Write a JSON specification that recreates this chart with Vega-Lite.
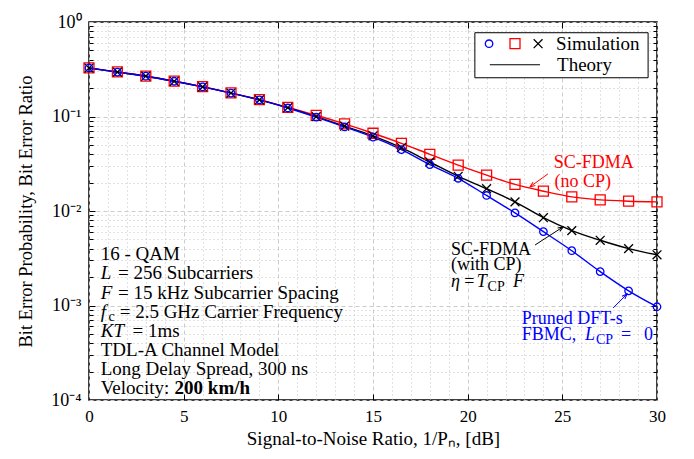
{
  "$schema": "https://vega.github.io/schema/vega-lite/v6.json",
  "width": 568,
  "height": 378,
  "autosize": {"type": "none"},
  "padding": {"left": 89, "top": 22, "right": 37, "bottom": 59},
  "background": "white",
  "config": {
    "view": {"stroke": "black", "strokeWidth": 1.5},
    "font": "Liberation Serif",
    "axis": {"labelFont": "Liberation Serif", "titleFont": "Liberation Serif", "labelColor": "black", "titleColor": "black", "tickColor": "black", "tickWidth": 1}
  },
  "datasets": {
    "curves": [
      {"snr": 0, "ber": 0.327, "series": "SC-FDMA, no CP"},
      {"snr": 1.5, "ber": 0.296, "series": "SC-FDMA, no CP"},
      {"snr": 3, "ber": 0.268, "series": "SC-FDMA, no CP"},
      {"snr": 4.5, "ber": 0.237, "series": "SC-FDMA, no CP"},
      {"snr": 6, "ber": 0.207, "series": "SC-FDMA, no CP"},
      {"snr": 7.5, "ber": 0.178, "series": "SC-FDMA, no CP"},
      {"snr": 9, "ber": 0.151, "series": "SC-FDMA, no CP"},
      {"snr": 10.5, "ber": 0.125, "series": "SC-FDMA, no CP"},
      {"snr": 12, "ber": 0.103, "series": "SC-FDMA, no CP"},
      {"snr": 13.5, "ber": 0.0835, "series": "SC-FDMA, no CP"},
      {"snr": 15, "ber": 0.0665, "series": "SC-FDMA, no CP"},
      {"snr": 16.5, "ber": 0.052, "series": "SC-FDMA, no CP"},
      {"snr": 18, "ber": 0.0398, "series": "SC-FDMA, no CP"},
      {"snr": 19.5, "ber": 0.0306, "series": "SC-FDMA, no CP"},
      {"snr": 21, "ber": 0.024, "series": "SC-FDMA, no CP"},
      {"snr": 22.5, "ber": 0.0191, "series": "SC-FDMA, no CP"},
      {"snr": 24, "ber": 0.0162, "series": "SC-FDMA, no CP"},
      {"snr": 25.5, "ber": 0.0141, "series": "SC-FDMA, no CP"},
      {"snr": 27, "ber": 0.0131, "series": "SC-FDMA, no CP"},
      {"snr": 28.5, "ber": 0.0127, "series": "SC-FDMA, no CP"},
      {"snr": 30, "ber": 0.0125, "series": "SC-FDMA, no CP"},
      {"snr": 0, "ber": 0.326, "series": "SC-FDMA, with CP"},
      {"snr": 1.5, "ber": 0.295, "series": "SC-FDMA, with CP"},
      {"snr": 3, "ber": 0.267, "series": "SC-FDMA, with CP"},
      {"snr": 4.5, "ber": 0.236, "series": "SC-FDMA, with CP"},
      {"snr": 6, "ber": 0.206, "series": "SC-FDMA, with CP"},
      {"snr": 7.5, "ber": 0.177, "series": "SC-FDMA, with CP"},
      {"snr": 9, "ber": 0.15, "series": "SC-FDMA, with CP"},
      {"snr": 10.5, "ber": 0.124, "series": "SC-FDMA, with CP"},
      {"snr": 12, "ber": 0.0995, "series": "SC-FDMA, with CP"},
      {"snr": 13.5, "ber": 0.079, "series": "SC-FDMA, with CP"},
      {"snr": 15, "ber": 0.0625, "series": "SC-FDMA, with CP"},
      {"snr": 16.5, "ber": 0.0468, "series": "SC-FDMA, with CP"},
      {"snr": 18, "ber": 0.033, "series": "SC-FDMA, with CP"},
      {"snr": 19.5, "ber": 0.0233, "series": "SC-FDMA, with CP"},
      {"snr": 21, "ber": 0.0172, "series": "SC-FDMA, with CP"},
      {"snr": 22.5, "ber": 0.0125, "series": "SC-FDMA, with CP"},
      {"snr": 24, "ber": 0.0085, "series": "SC-FDMA, with CP"},
      {"snr": 25.5, "ber": 0.0062, "series": "SC-FDMA, with CP"},
      {"snr": 27, "ber": 0.0049, "series": "SC-FDMA, with CP"},
      {"snr": 28.5, "ber": 0.004, "series": "SC-FDMA, with CP"},
      {"snr": 30, "ber": 0.00344, "series": "SC-FDMA, with CP"},
      {"snr": 0, "ber": 0.326, "series": "Pruned DFT-s FBMC"},
      {"snr": 1.5, "ber": 0.295, "series": "Pruned DFT-s FBMC"},
      {"snr": 3, "ber": 0.267, "series": "Pruned DFT-s FBMC"},
      {"snr": 4.5, "ber": 0.236, "series": "Pruned DFT-s FBMC"},
      {"snr": 6, "ber": 0.206, "series": "Pruned DFT-s FBMC"},
      {"snr": 7.5, "ber": 0.177, "series": "Pruned DFT-s FBMC"},
      {"snr": 9, "ber": 0.15, "series": "Pruned DFT-s FBMC"},
      {"snr": 10.5, "ber": 0.123, "series": "Pruned DFT-s FBMC"},
      {"snr": 12, "ber": 0.0985, "series": "Pruned DFT-s FBMC"},
      {"snr": 13.5, "ber": 0.0775, "series": "Pruned DFT-s FBMC"},
      {"snr": 15, "ber": 0.0605, "series": "Pruned DFT-s FBMC"},
      {"snr": 16.5, "ber": 0.0447, "series": "Pruned DFT-s FBMC"},
      {"snr": 18, "ber": 0.031, "series": "Pruned DFT-s FBMC"},
      {"snr": 19.5, "ber": 0.0222, "series": "Pruned DFT-s FBMC"},
      {"snr": 21, "ber": 0.0146, "series": "Pruned DFT-s FBMC"},
      {"snr": 22.5, "ber": 0.00955, "series": "Pruned DFT-s FBMC"},
      {"snr": 24, "ber": 0.00605, "series": "Pruned DFT-s FBMC"},
      {"snr": 25.5, "ber": 0.0038, "series": "Pruned DFT-s FBMC"},
      {"snr": 27, "ber": 0.00228, "series": "Pruned DFT-s FBMC"},
      {"snr": 28.5, "ber": 0.00143, "series": "Pruned DFT-s FBMC"},
      {"snr": 30, "ber": 0.00097, "series": "Pruned DFT-s FBMC"}
    ],
    "legendBox": [{"snr": 20.38, "snr2": 29.53, "ber": 0.77, "ber2": 0.257}],
    "legendSymbols": [
      {"snr": 21.13, "ber": 0.589, "series": "Pruned DFT-s FBMC"},
      {"snr": 22.5, "ber": 0.589, "series": "SC-FDMA, no CP"},
      {"snr": 23.72, "ber": 0.589, "series": "SC-FDMA, with CP"}
    ],
    "legendLine": [{"snr": 21.17, "snr2": 23.82, "ber": 0.353}],
    "legendText": [
      {"snr": 24.67, "ber": 0.589, "text": "Simulation", "series": "Legend"},
      {"snr": 24.72, "ber": 0.353, "text": "Theory", "series": "Legend"}
    ],
    "plainText": [
      {"snr": 24.55, "ber": 0.0323, "text": "SC-FDMA", "series": "SC-FDMA, no CP"},
      {"snr": 24.59, "ber": 0.0203, "text": "(no CP)", "series": "SC-FDMA, no CP"},
      {"snr": 19.12, "ber": 0.003866, "text": "SC-FDMA", "series": "SC-FDMA, with CP"},
      {"snr": 19.12, "ber": 0.002684, "text": "(with CP)", "series": "SC-FDMA, with CP"},
      {"snr": 19.82, "ber": 0.001787, "text": "=", "series": "SC-FDMA, with CP"},
      {"snr": 22.86, "ber": 0.00072, "text": "Pruned DFT-s", "series": "Pruned DFT-s FBMC"},
      {"snr": 22.86, "ber": 0.000487, "text": "FBMC,", "series": "Pruned DFT-s FBMC"},
      {"snr": 28.1, "ber": 0.000487, "text": "=", "series": "Pruned DFT-s FBMC"},
      {"snr": 29.31, "ber": 0.000487, "text": "0", "series": "Pruned DFT-s FBMC"}
    ],
    "setupText": [
      {"snr": 0.62, "ber": 0.003508, "text": "16 - QAM", "series": "Setup"},
      {"snr": 1.53, "ber": 0.002193, "text": "= 256 Subcarriers", "series": "Setup"},
      {"snr": 1.53, "ber": 0.001366, "text": "= 15 kHz Subcarrier Spacing", "series": "Setup"},
      {"snr": 1.62, "ber": 0.00086, "text": "= 2.5 GHz Carrier Frequency", "series": "Setup"},
      {"snr": 2.3, "ber": 0.000537, "text": "= 1ms", "series": "Setup"},
      {"snr": 0.62, "ber": 0.000338, "text": "TDL-A Channel Model", "series": "Setup"},
      {"snr": 0.62, "ber": 0.000211, "text": "Long Delay Spread, 300 ns", "series": "Setup"},
      {"snr": 0.62, "ber": 0.000133, "text": "Velocity:", "series": "Setup"}
    ],
    "setupItalic": [
      {"snr": 0.62, "ber": 0.002193, "text": "L", "series": "Setup"},
      {"snr": 0.62, "ber": 0.001366, "text": "F", "series": "Setup"},
      {"snr": 0.62, "ber": 0.00086, "text": "f", "series": "Setup"},
      {"snr": 0.62, "ber": 0.000537, "text": "KT", "series": "Setup"}
    ],
    "italicText": [
      {"snr": 19.12, "ber": 0.001787, "text": "η", "series": "SC-FDMA, with CP"},
      {"snr": 20.48, "ber": 0.001787, "text": "T", "series": "SC-FDMA, with CP"},
      {"snr": 22.4, "ber": 0.001787, "text": "F", "series": "SC-FDMA, with CP"},
      {"snr": 26.2, "ber": 0.000487, "text": "L", "series": "Pruned DFT-s FBMC"}
    ],
    "subText": [
      {"snr": 21.05, "ber": 0.001787, "text": "CP", "series": "SC-FDMA, with CP"},
      {"snr": 26.78, "ber": 0.000487, "text": "CP", "series": "Pruned DFT-s FBMC"},
      {"snr": 1.03, "ber": 0.00086, "text": "c", "series": "Setup"}
    ],
    "boldText": [
      {"snr": 4.52, "ber": 0.000133, "text": "200 km/h", "series": "Setup"}
    ],
    "arrows": [
      {"series": "SC-FDMA, no CP", "snr": 24.24, "ber": 0.0247, "snr_tip": 23.29, "ber_tip": 0.018},
      {"series": "SC-FDMA, with CP", "snr": 23.56, "ber": 0.00437, "snr_tip": 25.04, "ber_tip": 0.00679},
      {"series": "Pruned DFT-s FBMC", "snr": 27.68, "ber": 0.000941, "snr_tip": 28.42, "ber_tip": 0.001324}
    ]
  },
  "layer": [
    {
      "description": "Theory curves; also carries the dotted minor grid and left minor ticks",
      "data": {"name": "curves"},
      "mark": {"type": "line", "strokeWidth": 1.4, "interpolate": "monotone"},
      "encoding": {
        "x": {"field": "snr", "type": "quantitative",
          "scale": {"domain": [0, 30], "nice": false, "zero": false},
          "axis": {"orient": "bottom", "values": [1,2,3,4,6,7,8,9,11,12,13,14,16,17,18,19,21,22,23,24,26,27,28,29],
            "grid": true, "gridDash": [1, 3], "gridColor": "#c4c4c4", "gridWidth": 1,
            "labels": false, "ticks": false, "domain": false, "title": null}},
        "y": {"field": "ber", "type": "quantitative",
          "scale": {"type": "log", "domain": [0.0001, 1], "nice": false},
          "axis": {"orient": "left", "values": [0.0002,0.0003,0.0004,0.0005,0.0006,0.0007,0.0008,0.0009,0.002,0.003,0.004,0.005,0.006,0.007,0.008,0.009,0.02,0.03,0.04,0.05,0.06,0.07,0.08,0.09,0.2,0.3,0.4,0.5,0.6,0.7,0.8,0.9],
            "grid": true, "gridDash": [1, 3], "gridColor": "#c4c4c4", "gridWidth": 1,
            "labels": false, "ticks": true, "tickSize": -4, "domain": false, "title": null}},
        "color": {"field": "series", "type": "nominal",
          "scale": {"domain": ["SC-FDMA, no CP", "SC-FDMA, with CP", "Pruned DFT-s FBMC", "Setup", "Legend"],
            "range": ["#ff0000", "#000000", "#0000ff", "#000000", "#000000"]},
          "legend": null}
      }
    },
    {
      "description": "Simulation markers; also carries the labelled axes and dashed major grid",
      "data": {"name": "curves"},
      "mark": {"type": "point", "filled": false, "strokeWidth": 1.3, "opacity": 1},
      "encoding": {
        "x": {"field": "snr", "type": "quantitative",
          "axis": {"orient": "bottom", "values": [0, 5, 10, 15, 20, 25, 30], "grid": true, "gridDash": [4, 3], "gridColor": "#cccccc",
            "ticks": false, "domain": false, "labelFontSize": 17, "labelPadding": 8, "labelFlush": false,
            "title": "Signal-to-Noise Ratio, 1/Pₙ, [dB]", "titleFontSize": 19, "titleFontWeight": "normal", "titlePadding": 5}},
        "y": {"field": "ber", "type": "quantitative",
          "axis": {"orient": "left", "values": [0.0001, 0.001, 0.01, 0.1, 1], "grid": true, "gridDash": [4, 3], "gridColor": "#cccccc",
            "ticks": false, "domain": false, "labelFontSize": 18, "labelPadding": 8,
            "labelExpr": "datum.value >= 0.5 ? '10⁰' : '10⁻' + ['⁰','¹','²','³','⁴'][round(-log(datum.value)/LN10)]",
            "title": "Bit Error Probability, Bit Error Ratio", "titleFontSize": 18.5, "titleFontWeight": "normal", "titlePadding": 15}},
        "color": {"field": "series", "type": "nominal"},
        "shape": {"field": "series", "type": "nominal",
          "scale": {"domain": ["SC-FDMA, no CP", "SC-FDMA, with CP", "Pruned DFT-s FBMC"],
            "range": ["square", "M-1,-1L1,1M-1,1L1,-1", "circle"]}, "legend": null},
        "size": {"field": "series", "type": "nominal",
          "scale": {"domain": ["SC-FDMA, no CP", "SC-FDMA, with CP", "Pruned DFT-s FBMC"],
            "range": [100, 56, 144]}, "legend": null}
      }
    },
    {
      "description": "Legend frame; also carries the top and right major ticks",
      "data": {"name": "legendBox"},
      "mark": {"type": "rect", "fill": "white", "stroke": "black", "strokeWidth": 1},
      "encoding": {
        "x": {"field": "snr", "type": "quantitative",
          "axis": {"orient": "top", "values": [5, 10, 15, 20, 25], "grid": false, "labels": false, "ticks": true, "tickSize": -6, "domain": false, "title": null}},
        "x2": {"field": "snr2"},
        "y": {"field": "ber", "type": "quantitative",
          "axis": {"orient": "right", "values": [0.001, 0.01, 0.1], "grid": false, "labels": false, "ticks": true, "tickSize": -6, "domain": false, "title": null}},
        "y2": {"field": "ber2"}
      }
    },
    {
      "description": "Legend markers; also carries the bottom and left major ticks",
      "data": {"name": "legendSymbols"},
      "mark": {"type": "point", "filled": false, "strokeWidth": 1.3, "opacity": 1},
      "encoding": {
        "x": {"field": "snr", "type": "quantitative",
          "axis": {"orient": "bottom", "values": [5, 10, 15, 20, 25], "grid": false, "labels": false, "ticks": true, "tickSize": -6, "domain": false, "title": null}},
        "y": {"field": "ber", "type": "quantitative",
          "axis": {"orient": "left", "values": [0.001, 0.01, 0.1], "grid": false, "labels": false, "ticks": true, "tickSize": -6, "domain": false, "title": null}},
        "color": {"field": "series", "type": "nominal"},
        "shape": {"field": "series", "type": "nominal"},
        "size": {"field": "series", "type": "nominal"}
      }
    },
    {
      "description": "Legend line sample",
      "data": {"name": "legendLine"},
      "mark": {"type": "rule", "color": "black", "strokeWidth": 1.2},
      "encoding": {
        "x": {"field": "snr", "type": "quantitative", "axis": null},
        "x2": {"field": "snr2"},
        "y": {"field": "ber", "type": "quantitative", "axis": null}
      }
    },
    {
      "description": "Legend labels; also carries the right minor ticks",
      "data": {"name": "legendText"},
      "mark": {"type": "text", "align": "left", "baseline": "middle", "fontSize": 19, "font": "Liberation Serif"},
      "encoding": {
        "x": {"field": "snr", "type": "quantitative", "axis": null},
        "y": {"field": "ber", "type": "quantitative",
          "axis": {"orient": "right", "values": [0.0002,0.0003,0.0004,0.0005,0.0006,0.0007,0.0008,0.0009,0.002,0.003,0.004,0.005,0.006,0.007,0.008,0.009,0.02,0.03,0.04,0.05,0.06,0.07,0.08,0.09,0.2,0.3,0.4,0.5,0.6,0.7,0.8,0.9],
            "grid": false, "labels": false, "ticks": true, "tickSize": -4, "domain": false, "title": null}},
        "text": {"field": "text"},
        "color": {"field": "series", "type": "nominal"}
      }
    },
    {
      "description": "Annotation arrows",
      "data": {"name": "arrows"},
      "mark": {"type": "rule", "strokeWidth": 1},
      "encoding": {
        "x": {"field": "snr", "type": "quantitative", "axis": null},
        "y": {"field": "ber", "type": "quantitative", "axis": null},
        "x2": {"field": "snr_tip"},
        "y2": {"field": "ber_tip"},
        "color": {"field": "series", "type": "nominal"}
      }
    },
    {
      "data": {"name": "arrows"},
      "transform": [{"filter": "datum.series === 'SC-FDMA, no CP'"}],
      "mark": {"type": "point", "shape": "M-0.5,1.3L0,0L0.5,1.3", "filled": false, "strokeWidth": 1, "size": 64, "angle": 234, "opacity": 1},
      "encoding": {
        "x": {"field": "snr_tip", "type": "quantitative", "axis": null},
        "y": {"field": "ber_tip", "type": "quantitative", "axis": null},
        "color": {"field": "series", "type": "nominal"}
      }
    },
    {
      "data": {"name": "arrows"},
      "transform": [{"filter": "datum.series === 'SC-FDMA, with CP'"}],
      "mark": {"type": "point", "shape": "M-0.5,1.3L0,0L0.5,1.3", "filled": false, "strokeWidth": 1, "size": 64, "angle": 57, "opacity": 1},
      "encoding": {
        "x": {"field": "snr_tip", "type": "quantitative", "axis": null},
        "y": {"field": "ber_tip", "type": "quantitative", "axis": null},
        "color": {"field": "series", "type": "nominal"}
      }
    },
    {
      "data": {"name": "arrows"},
      "transform": [{"filter": "datum.series === 'Pruned DFT-s FBMC'"}],
      "mark": {"type": "point", "shape": "M-0.5,1.3L0,0L0.5,1.3", "filled": false, "strokeWidth": 1, "size": 64, "angle": 45, "opacity": 1},
      "encoding": {
        "x": {"field": "snr_tip", "type": "quantitative", "axis": null},
        "y": {"field": "ber_tip", "type": "quantitative", "axis": null},
        "color": {"field": "series", "type": "nominal"}
      }
    },
    {
      "description": "Curve annotations, upright",
      "data": {"name": "plainText"},
      "mark": {"type": "text", "align": "left", "baseline": "middle", "fontSize": 18, "font": "Liberation Serif"},
      "encoding": {
        "x": {"field": "snr", "type": "quantitative", "axis": null},
        "y": {"field": "ber", "type": "quantitative", "axis": null},
        "text": {"field": "text"},
        "color": {"field": "series", "type": "nominal"}
      }
    },
    {
      "description": "Curve annotations, math italic",
      "data": {"name": "italicText"},
      "mark": {"type": "text", "align": "left", "baseline": "middle", "fontSize": 18, "font": "Liberation Serif", "fontStyle": "italic"},
      "encoding": {
        "x": {"field": "snr", "type": "quantitative", "axis": null},
        "y": {"field": "ber", "type": "quantitative", "axis": null},
        "text": {"field": "text"},
        "color": {"field": "series", "type": "nominal"}
      }
    },
    {
      "description": "Simulation setup block, upright",
      "data": {"name": "setupText"},
      "mark": {"type": "text", "align": "left", "baseline": "middle", "fontSize": 19, "font": "Liberation Serif", "color": "black"},
      "encoding": {
        "x": {"field": "snr", "type": "quantitative", "axis": null},
        "y": {"field": "ber", "type": "quantitative", "axis": null},
        "text": {"field": "text"}
      }
    },
    {
      "description": "Simulation setup block, math italic",
      "data": {"name": "setupItalic"},
      "mark": {"type": "text", "align": "left", "baseline": "middle", "fontSize": 19, "font": "Liberation Serif", "fontStyle": "italic", "color": "black"},
      "encoding": {
        "x": {"field": "snr", "type": "quantitative", "axis": null},
        "y": {"field": "ber", "type": "quantitative", "axis": null},
        "text": {"field": "text"}
      }
    },
    {
      "description": "Subscripts",
      "data": {"name": "subText"},
      "mark": {"type": "text", "align": "left", "baseline": "middle", "fontSize": 14, "dy": 5, "font": "Liberation Serif"},
      "encoding": {
        "x": {"field": "snr", "type": "quantitative", "axis": null},
        "y": {"field": "ber", "type": "quantitative", "axis": null},
        "text": {"field": "text"},
        "color": {"field": "series", "type": "nominal"}
      }
    },
    {
      "description": "Bold speed value",
      "data": {"name": "boldText"},
      "mark": {"type": "text", "align": "left", "baseline": "middle", "fontSize": 19, "font": "Liberation Serif", "fontWeight": "bold", "color": "black"},
      "encoding": {
        "x": {"field": "snr", "type": "quantitative", "axis": null},
        "y": {"field": "ber", "type": "quantitative", "axis": null},
        "text": {"field": "text"}
      }
    }
  ],
  "resolve": {"axis": {"x": "independent", "y": "independent"}}
}
